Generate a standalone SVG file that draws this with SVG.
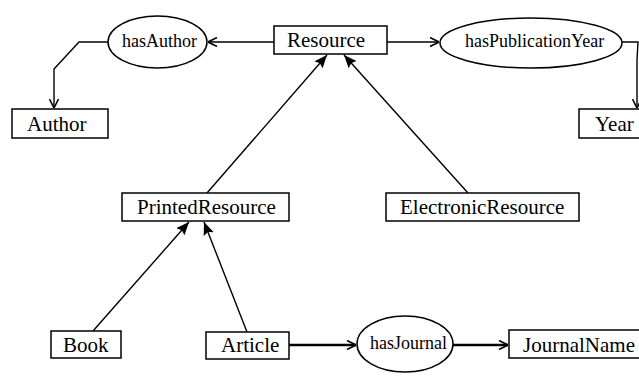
<svg xmlns="http://www.w3.org/2000/svg" width="639" height="381" viewBox="0 0 639 381">
<style>
.box{fill:#fff;stroke:#000;stroke-width:1.5}
.ell{fill:#fff;stroke:#000;stroke-width:1.5}
.lbl{font-family:"Liberation Serif","Times New Roman",serif;font-size:21px;fill:#000}
.elbl{font-family:"Liberation Serif","Times New Roman",serif;font-size:18px;fill:#000}
.ln{fill:none;stroke:#000;stroke-width:1.4}
.thick{fill:none;stroke:#000;stroke-width:2.6}
.open{marker-end:url(#open)}
.isa{marker-end:url(#tri)}
</style>
<defs>
<marker id="open" viewBox="0 0 10 10" refX="10" refY="5" markerWidth="10" markerHeight="10" markerUnits="userSpaceOnUse" orient="auto">
<path d="M1,0.5 L10,5 L1,9.5" fill="none" stroke="#000" stroke-width="1.6"/>
</marker>
<marker id="tri" viewBox="0 0 12 10" refX="12" refY="5" markerWidth="13" markerHeight="11" markerUnits="userSpaceOnUse" orient="auto">
<path d="M0,0 L12,5 L0,10 L2,5 Z" fill="#000"/>
</marker>
</defs>
<g id="connectors">
<line class="ln open" x1="274" y1="42" x2="208" y2="42"/>
<polyline class="ln open" points="108,42 79,42 54,69 54,108"/>
<line class="ln open" x1="387" y1="42" x2="439" y2="42"/>
<polyline class="ln open" points="622,42 638,42 637,60 637,108"/>
<line class="ln isa" x1="207" y1="193" x2="327" y2="55"/>
<line class="ln isa" x1="468" y1="193" x2="344" y2="55"/>
<line class="ln isa" x1="93" y1="331" x2="189" y2="222"/>
<line class="ln isa" x1="247" y1="332" x2="204" y2="222"/>
<line class="thick open" x1="289" y1="345" x2="356" y2="345"/>
<line class="thick open" x1="453" y1="345" x2="508" y2="345"/>
</g>
<g id="Resource"><rect class="box" x="274" y="26" width="113" height="28"/><text class="lbl" x="287" y="47">Resource</text></g>
<g id="hasAuthor"><ellipse class="ell" cx="157.5" cy="42" rx="49.5" ry="26"/><text class="elbl" x="122" y="47">hasAuthor</text></g>
<g id="hasPublicationYear"><ellipse class="ell" cx="531" cy="43" rx="91" ry="25"/><text class="elbl" x="465" y="47">hasPublicationYear</text></g>
<g id="Author"><rect class="box" x="12" y="109" width="96" height="29"/><text class="lbl" x="27" y="131">Author</text></g>
<g id="Year"><rect class="box" x="579" y="109" width="80" height="29"/><text class="lbl" x="595" y="131">Year</text></g>
<g id="PrintedResource"><rect class="box" x="122" y="193" width="167" height="28"/><text class="lbl" x="137" y="214">PrintedResource</text></g>
<g id="ElectronicResource"><rect class="box" x="386" y="193" width="193" height="28"/><text class="lbl" x="400" y="214">ElectronicResource</text></g>
<g id="Book"><rect class="box" x="51" y="331" width="70" height="27"/><text class="lbl" x="63" y="352">Book</text></g>
<g id="Article"><rect class="box" x="206" y="332" width="83" height="27"/><text class="lbl" x="221" y="352">Article</text></g>
<g id="hasJournal"><ellipse class="ell" cx="405" cy="344" rx="48" ry="28"/><text class="elbl" x="370" y="349">hasJournal</text></g>
<g id="JournalName"><rect class="box" x="509" y="330" width="150" height="28"/><text class="lbl" x="523" y="352">JournalName</text></g>
</svg>
